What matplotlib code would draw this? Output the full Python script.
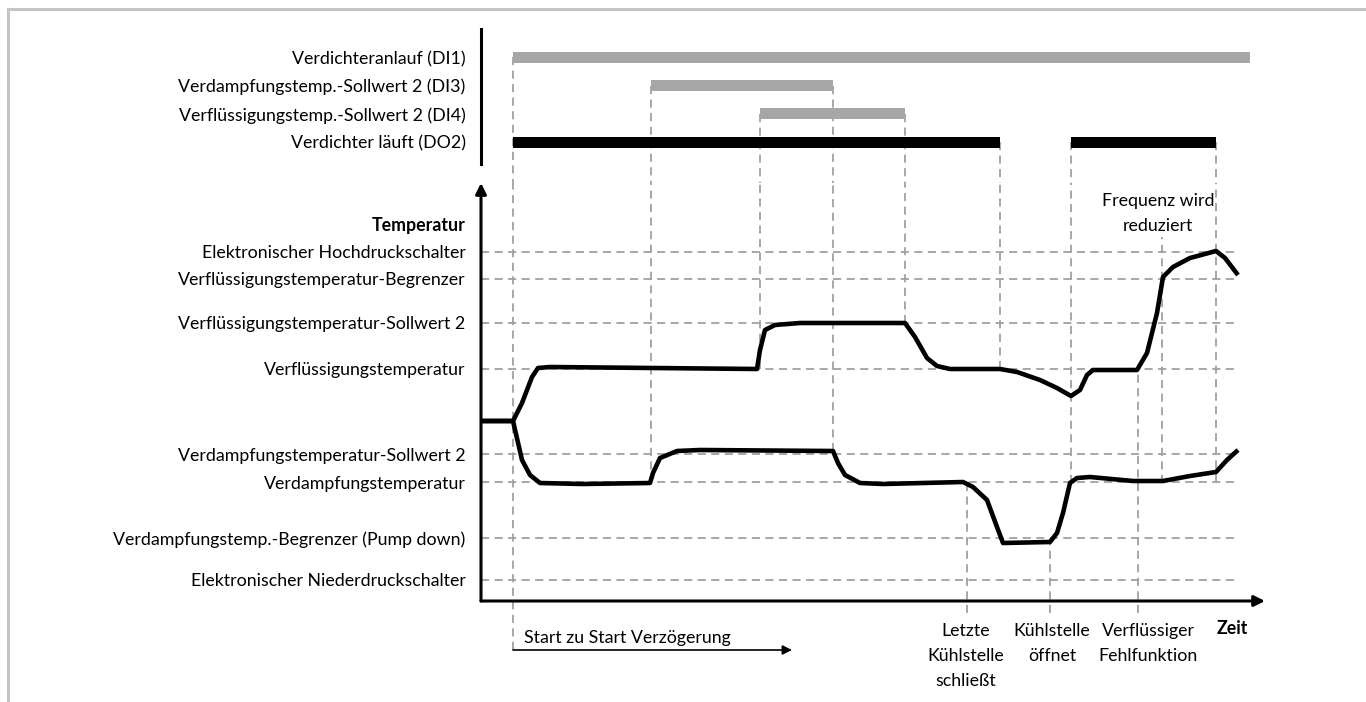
import numpy as np
import matplotlib.pyplot as plt
from matplotlib.lines import Line2D

plt.rcParams["font.family"] = ["Lato", "DejaVu Sans"]
FS = 12.8

# ---- digital signals (top panel) ----
signal_labels = [
    "Verdichteranlauf (DI1)",
    "Verdampfungstemp.-Sollwert 2 (DI3)",
    "Verflüssigungstemp.-Sollwert 2 (DI4)",
    "Verdichter läuft (DO2)",
]
signal_rows = [0, 1, 2, 3]
# (row, start, end) in time units
bar_row = [0, 1, 2, 3, 3]
bar_start = [3.2, 17.0, 27.9, 3.2, 59.0]
bar_end = [76.9, 35.2, 42.4, 51.9, 73.5]
bar_color = ["#a6a6a6", "#a6a6a6", "#a6a6a6", "black", "black"]

# ---- temperature levels (bottom panel) ----
level_labels = [
    "Elektronischer Hochdruckschalter",
    "Verflüssigungstemperatur-Begrenzer",
    "Verflüssigungstemperatur-Sollwert 2",
    "Verflüssigungstemperatur",
    "Verdampfungstemperatur-Sollwert 2",
    "Verdampfungstemperatur",
    "Verdampfungstemp.-Begrenzer (Pump down)",
    "Elektronischer Niederdruckschalter",
]
level_values = [34.9, 32.2, 27.8, 23.2, 14.7, 11.9, 6.3, 2.1]

# condensing temperature curve
cond_t = [0.0, 3.2, 4.1, 5.1, 5.7, 6.9, 27.6, 27.9, 28.4, 29.4, 31.9, 42.4, 43.4,
          44.6, 45.6, 46.9, 51.9, 53.6, 55.9, 57.6, 59.0, 59.9, 60.6, 61.2, 65.6,
          66.6, 67.6, 68.2, 69.2, 70.9, 73.5, 74.4, 75.7]
cond_T = [18.0, 18.0, 19.8, 22.4, 23.3, 23.4, 23.2, 25.1, 27.1, 27.6, 27.8, 27.8, 26.4,
          24.3, 23.5, 23.2, 23.2, 22.9, 22.1, 21.3, 20.5, 21.1, 22.6, 23.1, 23.1,
          24.8, 28.8, 32.4, 33.4, 34.3, 35.0, 34.3, 32.6]

# evaporating temperature curve
evap_t = [0.0, 3.2, 4.1, 4.9, 5.9, 10.2, 16.9, 17.2, 17.9, 19.6, 21.9, 35.2, 35.7,
          36.4, 37.9, 40.2, 48.2, 49.2, 50.6, 51.6, 52.2, 56.9, 57.6, 58.2, 58.9,
          59.6, 60.9, 65.2, 68.2, 70.9, 73.5, 74.6, 75.7]
evap_T = [18.0, 18.0, 14.1, 12.6, 11.8, 11.7, 11.8, 12.8, 14.3, 15.0, 15.1, 15.0, 13.8,
          12.6, 11.8, 11.7, 11.9, 11.4, 10.1, 7.4, 5.8, 5.9, 6.8, 8.8, 11.8,
          12.3, 12.4, 12.0, 12.0, 12.5, 12.9, 14.1, 15.1]

# vertical event markers starting at a bar: (time, row, lower end)
mark_t = [3.2, 17.0, 27.9, 35.2, 42.4, 51.9, 59.0, 73.5]
mark_row = [0, 1, 2, 1, 2, 3, 3, 3]
mark_low = [-4.9, 11.8, 23.2, 15.0, 27.8, 23.2, 11.8, 11.9]
# vertical markers only in the temperature panel
sub_t = [48.6, 56.9, 65.7, 68.1]
sub_high = [11.9, 5.9, 23.2, 36.4]
sub_low = [-1.2, -1.2, -1.2, 11.8]

event_t = [48.5, 57.1, 66.7]
event_text = ["Letzte\nKühlstelle\nschließt", "Kühlstelle\nöffnet", "Verflüssiger\nFehlfunktion"]

DASH = dict(color="#a0a0a0", lw=1.3, linestyle=(0, (4.5, 3)))

fig = plt.figure(figsize=(13.66, 7.02), dpi=100)
W, H = 1366.0, 702.0

ax_top = fig.add_axes([481 / W, 1 - 183 / H, 784 / W, 154 / H])
ax = fig.add_axes([481 / W, 1 - 601 / H, 784 / W, 418 / H])

# top panel
TOP_LIM = (4.45, -1.01)
ax_top.set_xlim(0, 78.4)
ax_top.set_ylim(*TOP_LIM)
ax_top.barh(bar_row, np.array(bar_end) - np.array(bar_start), left=bar_start,
            height=0.39, color=bar_color, zorder=3)
for t, r in zip(mark_t, mark_row):
    ax_top.vlines(t, r, TOP_LIM[0], **DASH)
ax_top.set_yticks(signal_rows, signal_labels, fontsize=FS)
ax_top.tick_params(axis="y", length=0, pad=11)
ax_top.set_xticks([])
for s in ["top", "right", "bottom"]:
    ax_top.spines[s].set_visible(False)
ax_top.spines["left"].set_linewidth(2.2)
ax_top.spines["left"].set_bounds(TOP_LIM[1], 3.78)
ax_top.patch.set_alpha(0)

# temperature panel
ax.set_xlim(0, 78.4)
ax.set_ylim(0, 41.8)
ax.hlines(level_values, 0, 75.7, **DASH)
for t, lo in zip(mark_t, mark_low):
    ax.vlines(t, lo, 41.8, clip_on=False, **DASH)
ax.vlines(sub_t, sub_low, sub_high, clip_on=False, **DASH)
ax.plot(cond_t, cond_T, color="black", lw=3.3, solid_joinstyle="round",
        solid_capstyle="butt", zorder=4)
ax.plot(evap_t, evap_T, color="black", lw=3.3, solid_joinstyle="round",
        solid_capstyle="butt", zorder=4)

ax.set_yticks(level_values, level_labels, fontsize=FS)
ax.tick_params(axis="y", length=0, pad=11)
ax.set_xticks([])
for s in ["top", "right", "left", "bottom"]:
    ax.spines[s].set_visible(False)
ax.patch.set_alpha(0)

arrow = dict(arrowstyle="-|>", lw=2.2, color="black", mutation_scale=16,
             shrinkA=0, shrinkB=0)
ax.annotate("", xy=(0, 1), xytext=(0, 0), xycoords="axes fraction",
            arrowprops=arrow)
ax.annotate("", xy=(1, 0), xytext=(0, 0), xycoords="axes fraction",
            arrowprops=arrow)

ax.text(-1.5, 37.6, "Temperatur", ha="right", va="center", fontsize=FS,
        fontweight="bold")
ax.text(75.1, -2.8, "Zeit", ha="center", va="center", fontsize=FS,
        fontweight="bold", clip_on=False)
for t, txt in zip(event_t, event_text):
    ax.text(t, -2.2, txt, ha="center", va="top", fontsize=FS,
            linespacing=1.7, clip_on=False)
ax.text(67.7, 40.8, "Frequenz wird\nreduziert", ha="center", va="top",
        fontsize=FS, linespacing=1.7)

# start-to-start delay arrow
ax.annotate("", xy=(31.1, -4.9), xytext=(3.2, -4.9), xycoords="data",
            arrowprops=dict(arrowstyle="-|>", lw=1.2, color="black",
                            mutation_scale=14, shrinkA=0, shrinkB=0),
            annotation_clip=False)
ax.text(4.3, -4.5, "Start zu Start Verzögerung", ha="left", va="bottom",
        fontsize=FS, clip_on=False)

# page frame
fig.add_artist(Line2D([8 / W, 8 / W], [0, 1 - 9 / H], color="#c4c4c4", lw=2.2))
fig.add_artist(Line2D([8 / W, 1], [1 - 9 / H, 1 - 9 / H], color="#c4c4c4", lw=2.2))

fig.savefig("out.png", dpi=100)
